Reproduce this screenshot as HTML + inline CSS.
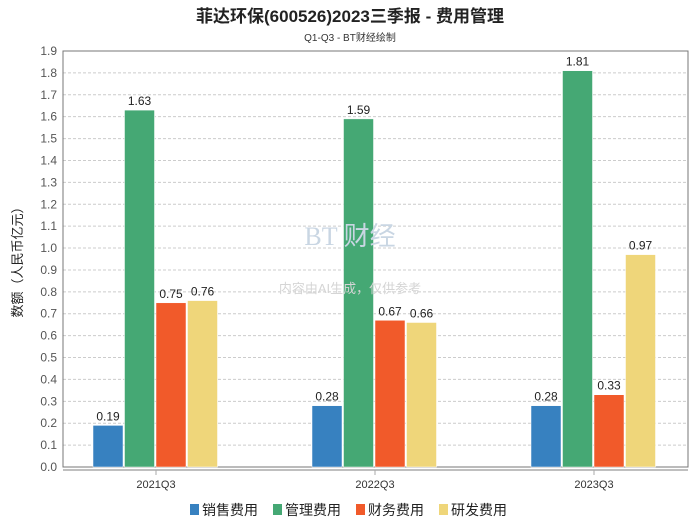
<!DOCTYPE html>
<html><head><meta charset="utf-8"><style>
body{margin:0;background:#fff;width:700px;height:524px;overflow:hidden;font-family:"Liberation Sans","Noto Sans CJK SC",sans-serif}
</style></head><body>
<svg id="c" width="700" height="524" xmlns="http://www.w3.org/2000/svg" font-family="Liberation Sans, Noto Sans CJK SC, sans-serif">
<text x="350" y="22" text-anchor="middle" font-size="17" font-weight="bold" fill="#222">菲达环保(600526)2023三季报 - 费用管理</text>
<text x="350" y="41" text-anchor="middle" font-size="10" fill="#333">Q1-Q3 - BT财经绘制</text>
<g id="grid"></g>
<g id="bars"></g>
<text x="350" y="245" text-anchor="middle" font-size="26" fill="#c9d6e3" font-family="Liberation Serif, serif">BT 财经</text>
<text x="350" y="293" text-anchor="middle" font-size="13" fill="#d5d5d5">内容由AI生成，仅供参考</text>
<text transform="translate(22,259) rotate(-90)" text-anchor="middle" font-size="13" fill="#222">数额（人民币亿元）</text>
<g id="legend"></g>
</svg>
<script>
const categories=['2021Q3','2022Q3','2023Q3'];
const seriesNames=['销售费用','管理费用','财务费用','研发费用'];
const colors=['#3781c0','#45a874','#f15a2a','#efd67a'];
const sales=[0.19,0.28,0.28];
const admin=[1.63,1.59,1.81];
const finance=[0.75,0.67,0.33];
const rnd=[0.76,0.66,0.97];
const yTicks=['0.0','0.1','0.2','0.3','0.4','0.5','0.6','0.7','0.8','0.9','1.0','1.1','1.2','1.3','1.4','1.5','1.6','1.7','1.8','1.9'];
const series=[sales,admin,finance,rnd];
const NS='http://www.w3.org/2000/svg';
const L=63,R=688,T=51,B=467,yMax=1.9;
const y=v=>B-(v/yMax)*(B-T);
const xc=i=>156+219*i;
function mk(tag,at,parent){const e=document.createElementNS(NS,tag);for(const k in at)e.setAttribute(k,at[k]);parent.appendChild(e);return e;}
const g=document.getElementById('grid'),b=document.getElementById('bars'),lg=document.getElementById('legend');
yTicks.forEach(t=>{const v=parseFloat(t),yy=y(v);
 if(v>0&&v<yMax){const l=mk('line',{x1:L,x2:R,y1:yy,y2:yy,stroke:'#ccc','stroke-dasharray':'3,2'},g);}
 const tx=mk('text',{x:L-6,y:yy+4,'text-anchor':'end','font-size':12,fill:'#555'},g);tx.textContent=t;
 });
const fr=mk('rect',{x:L,y:T,width:R-L,height:B-T,fill:'none',stroke:'#777'},g);

const xa=mk('line',{x1:L,x2:R,y1:B+3,y2:B+3,stroke:'#aaa','stroke-width':1.5},g);

categories.forEach((c,i)=>{
 const tk=mk('line',{x1:xc(i),x2:xc(i),y1:B+3,y2:B+8,stroke:'#aaa'},g);
 const t=mk('text',{x:xc(i),y:B+21,'text-anchor':'middle','font-size':11,fill:'#333'},g);t.textContent=c;
 
 series.forEach((s,j)=>{const x0=xc(i)-63+j*31.5,v=s[i];
  const r=mk('rect',{x:x0,y:y(v),width:30,height:B-y(v),fill:colors[j],stroke:'#fff','stroke-width':0.5},b);
  
  const vt=mk('text',{x:x0+15,y:y(v)-5,'text-anchor':'middle','font-size':12,fill:'#222'},b);vt.textContent=v.toFixed(2);
  });
});
let lx=190;
seriesNames.forEach((n,j)=>{
 const r=mk('rect',{x:lx,y:504,width:9,height:11,fill:colors[j]},lg);
 const t=mk('text',{x:lx+12,y:515,'font-size':14,fill:'#222'},lg);t.textContent=n;
 
 lx+=83;});
</script>
</body></html>
